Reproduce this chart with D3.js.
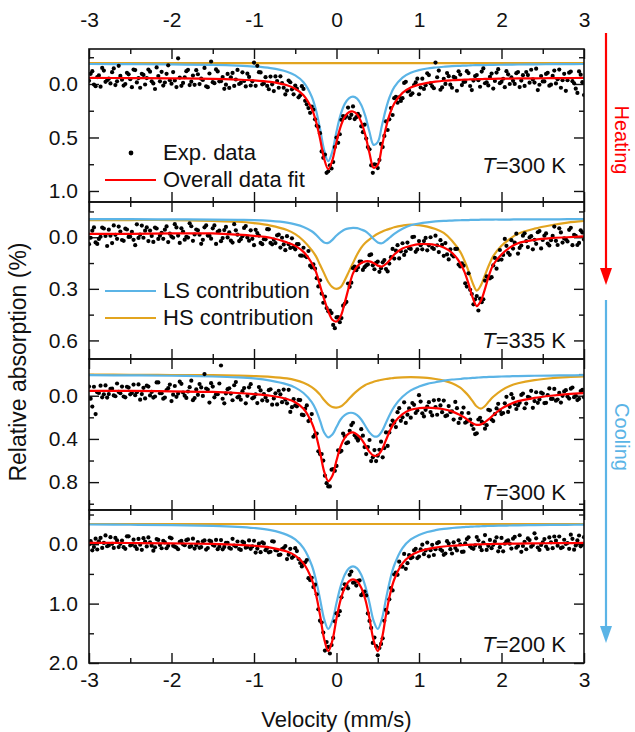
<!DOCTYPE html>
<html>
<head>
<meta charset="utf-8">
<script src="https://cdn.jsdelivr.net/npm/d3@7"></script>
<style>
  body { margin: 0; background: #fff; }
  svg { display: block; }
  text { font-family: Arial, "Liberation Sans", sans-serif; fill: #111; }
</style>
</head>
<body>
<div id="chart"></div>
<script>
// ---- data ----
var velTicks = [-3, -2, -1, 0, 1, 2, 3];
var velMinor = [-2.5, -1.5, -0.5, 0.5, 1.5, 2.5];

// velocities of the fitted-curve samples (mm/s)
var fitV = [-3, -2.5, -2, -1.5, -1.2, -1, -0.8, -0.6, -0.5, -0.4,
  -0.3, -0.25, -0.2, -0.15, -0.1, -0.05, 0, 0.05, 0.1, 0.15,
  0.2, 0.25, 0.3, 0.35, 0.4, 0.45, 0.5, 0.55, 0.6, 0.65,
  0.7, 0.8, 0.9, 1.0, 1.1, 1.2, 1.3, 1.4, 1.5, 1.55,
  1.6, 1.65, 1.7, 1.75, 1.8, 1.85, 1.9, 2.0, 2.1, 2.2,
  2.4, 2.6, 2.8, 3];
var flatV = [-3, 3];

// panel 1 : T = 300 K (heating); expA on channels -3.00+0.04i, expB on -2.98+0.04j
var exp1A = [-0.03,-0.12,0.02,-0.08,-0.15,-0.02,-0.05,-0.11,0.01,-0.17,
  -0.04,0.0,-0.09,0.03,-0.13,-0.055,-0.095,0.005,-0.135,-0.025,
  0.047,-0.074,-0.114,-0.014,-0.174,-0.003,-0.033,-0.24,0.017,-0.063,
  -0.132,-0.022,0.008,-0.091,-0.05,-0.15,0.03,-0.21,-0.008,-0.117,
  -0.026,0.045,-0.094,-0.063,0.018,-0.131,-0.01,-0.028,-0.096,0.014,
  -0.2,-0.17,-0.108,-0.005,0.018,-0.069,0.066,-0.028,-0.072,0.035,
  0.062,-0.016,0.097,0.044,0.106,0.046,0.19,0.27,0.24,0.39,
  0.46,0.69,0.83,0.76,0.73,0.50,0.47,0.30,0.30,0.32,
  0.21,0.31,0.30,0.45,0.51,0.61,0.83,0.755,0.71,0.59,
  0.35,0.33,0.29,0.12,0.125,0.133,-0.02,0.062,0.087,-0.015,
  0.096,-0.05,0.012,-0.083,0.022,-0.2,-0.125,0.032,-0.001,-0.073,
  0.035,-0.057,-0.118,0.01,-0.021,-0.102,0.057,-0.074,-0.035,-0.116,
  -0.007,0.013,-0.097,-0.028,-0.138,-0.02,0.03,-0.09,-0.061,-0.001,
  -0.112,-0.032,0.018,-0.083,-0.133,-0.013,0.057,-0.074,-0.024,-0.104,
  0.006,-0.125,-0.045,0.035,-0.095,-0.035,-0.116,-0.006,0.084,-0.087,0.103];
var exp1B = [-0.095,0.005,-0.065,0.025,-0.125,-0.035,-0.005,-0.145,-0.025,-0.075,
  0.015,-0.105,-0.045,-0.135,-0.015,0.035,-0.085,-0.055,-0.115,-0.005,
  -0.155,-0.025,0.015,-0.095,-0.035,-0.111,0.029,-0.06,-0.01,-0.12,
  0.01,-0.079,-0.129,0.001,-0.038,0.022,-0.098,-0.017,-0.136,-0.025,
  -0.065,0.006,0.037,-0.103,-0.042,0.0,-0.109,0.023,-0.066,-0.025,
  0.017,-0.11,0.003,-0.064,0.049,0.003,-0.071,0.035,-0.008,0.098,
  -0.032,0.05,0.015,0.125,0.02,0.157,0.225,0.212,0.33,0.40,
  0.63,0.66,0.816,0.79,0.59,0.55,0.335,0.318,0.22,0.288,
  0.328,0.28,0.396,0.38,0.59,0.76,0.75,0.786,0.56,0.485,
  0.43,0.225,0.133,0.175,0.158,-0.01,0.07,0.103,0.01,-0.05,
  0.033,0.046,-0.1,-0.005,0.04,-0.063,0.054,-0.049,-0.102,0.006,
  -0.066,0.063,-0.088,-0.019,-0.12,0.019,-0.032,-0.083,0.026,-0.145,
  -0.016,-0.066,0.043,-0.107,-0.008,-0.049,-0.12,0.0,-0.03,-0.101,
  0.029,-0.082,-0.112,-0.012,-0.043,-0.143,0.007,-0.024,-0.094,0.016,
  -0.075,-0.005,-0.135,-0.035,0.064,-0.106,-0.026,0.044,-0.117,-0.017];
var fit1 = [-0.057,-0.055,-0.053,-0.048,-0.041,-0.034,-0.019,0.012,0.045,0.106,
  0.232,0.346,0.51,0.698,0.796,0.713,0.542,0.398,0.308,0.264,
  0.257,0.285,0.356,0.478,0.647,0.783,0.756,0.587,0.406,0.273,
  0.183,0.083,0.033,0.006,-0.011,-0.022,-0.03,-0.035,-0.039,-0.041,
  -0.042,-0.043,-0.045,-0.046,-0.047,-0.047,-0.048,-0.05,-0.051,-0.052,
  -0.053,-0.054,-0.055,-0.057];
var ls1 = [-0.187,-0.185,-0.183,-0.178,-0.171,-0.163,-0.148,-0.115,-0.08,-0.016,
  0.119,0.241,0.416,0.617,0.721,0.63,0.445,0.287,0.186,0.134,
  0.118,0.137,0.196,0.301,0.449,0.569,0.543,0.39,0.23,0.11,
  0.03,-0.06,-0.104,-0.129,-0.145,-0.154,-0.161,-0.167,-0.17,-0.172,
  -0.173,-0.175,-0.176,-0.177,-0.177,-0.178,-0.179,-0.18,-0.181,-0.182,
  -0.184,-0.185,-0.186,-0.187];
var hs1 = [-0.195, -0.195];

// panel 2 : T = 335 K
var exp2A = [0.04,-0.038,0.03,0.01,-0.056,-0.008,-0.044,0.034,-0.014,-0.062,
  0.016,-0.05,-0.002,-0.032,0.046,0.004,-0.068,-0.038,0.022,-0.008,
  -0.056,0.01,-0.026,-0.044,0.028,-0.004,-0.076,-0.01,-0.052,0.014,
  0.002,-0.064,-0.016,-0.04,0.038,-0.058,-0.01,0.008,-0.069,-0.032,
  0.023,-0.042,0.001,0.02,-0.076,-0.015,0.011,-0.054,0.001,-0.04,
  0.046,-0.024,0.033,0.011,-0.047,0.033,0.014,-0.011,0.06,0.042,
  -0.006,0.062,0.058,0.04,0.106,0.061,0.116,0.165,0.158,0.238,
  0.25,0.381,0.412,0.427,0.51,0.466,0.494,0.398,0.376,0.288,
  0.18,0.192,0.142,0.19,0.164,0.104,0.163,0.149,0.201,0.146,
  0.185,0.153,0.068,0.078,0.123,0.035,0.082,0.064,-0.001,0.085,
  0.022,0.07,0.004,0.047,0.061,-0.009,0.086,0.044,0.034,0.129,
  0.102,0.068,0.159,0.152,0.268,0.21,0.33,0.361,0.426,0.378,
  0.252,0.234,0.232,0.12,0.132,0.13,0.01,0.09,0.017,0.031,
  0.095,0.048,-0.023,0.057,-0.006,0.015,-0.029,0.065,-0.009,0.037,
  0.017,-0.062,0.045,-0.028,0.007,0.024,-0.055,-0.014,0.045,-0.04,0.013];
var exp2B = [0.003,-0.057,0.039,-0.003,-0.051,0.051,-0.009,-0.069,0.009,-0.033,
  0.021,-0.045,-0.003,0.015,-0.075,-0.015,0.003,-0.057,-0.039,0.027,
  -0.051,-0.009,0.009,-0.063,-0.021,0.003,-0.057,0.033,-0.033,-0.003,
  -0.081,0.021,-0.045,-0.015,0.015,-0.069,-0.009,-0.052,0.039,-0.038,
  0.005,-0.06,-0.029,0.031,-0.04,0.022,-0.006,-0.065,0.02,0.009,
  -0.043,-0.01,0.04,0.012,-0.046,0.041,0.034,-0.015,0.003,0.075,
  0.04,0.006,0.07,0.04,0.107,0.109,0.08,0.176,0.183,0.286,
  0.328,0.345,0.431,0.441,0.529,0.464,0.47,0.387,0.269,0.264,
  0.171,0.176,0.142,0.174,0.158,0.1,0.186,0.142,0.18,0.133,
  0.199,0.116,0.124,0.046,0.082,0.103,0.031,0.068,-0.003,0.071,
  0.046,0.022,0.076,0.0,0.068,0.047,0.017,0.108,0.1,0.07,
  0.112,0.068,0.17,0.165,0.287,0.306,0.39,0.342,0.357,0.361,
  0.228,0.239,0.164,0.183,0.074,0.103,0.05,0.102,0.066,-0.021,
  0.062,-0.009,0.023,0.001,0.07,0.038,-0.036,0.016,-0.022,0.048,
  -0.008,0.021,-0.052,0.031,0.012,-0.043,0.046,-0.008,0.033,-0.028];
var fit2 = [-0.02,-0.02,-0.022,-0.022,-0.015,-0.008,0.003,0.03,0.05,0.085,
  0.15,0.2,0.28,0.36,0.43,0.48,0.49,0.46,0.38,0.29,
  0.21,0.17,0.15,0.14,0.14,0.15,0.165,0.17,0.155,0.13,
  0.1,0.065,0.05,0.04,0.04,0.045,0.06,0.09,0.15,0.2,
  0.27,0.35,0.4,0.37,0.3,0.22,0.16,0.1,0.06,0.035,
  0.015,0.005,0,-0.005];
var ls2 = [-0.105,-0.105,-0.104,-0.103,-0.101,-0.1,-0.095,-0.085,-0.075,-0.06,
  -0.035,-0.015,0.01,0.03,0.033,0.015,-0.01,-0.03,-0.045,-0.052,
  -0.055,-0.053,-0.045,-0.035,-0.015,0.01,0.03,0.035,0.02,0.0,
  -0.02,-0.05,-0.07,-0.08,-0.087,-0.092,-0.095,-0.097,-0.099,-0.1,
  -0.1,-0.101,-0.101,-0.102,-0.102,-0.102,-0.103,-0.103,-0.103,-0.104,
  -0.104,-0.104,-0.105,-0.105];
var hs2 = [-0.1,-0.1,-0.1,-0.095,-0.09,-0.082,-0.068,-0.042,-0.018,0.02,
  0.075,0.11,0.16,0.21,0.26,0.29,0.3,0.29,0.25,0.2,
  0.15,0.1,0.06,0.032,0.012,-0.005,-0.02,-0.032,-0.042,-0.05,
  -0.058,-0.068,-0.074,-0.07,-0.062,-0.048,-0.025,0.02,0.085,0.135,
  0.195,0.265,0.31,0.28,0.22,0.16,0.11,0.05,0.01,-0.02,
  -0.05,-0.07,-0.085,-0.095];

// panel 3 : T = 300 K (cooling)
var exp3A = [-0.085,0.1,0.17,-0.025,0.015,-0.095,-0.015,-0.065,0.005,-0.035,
  -0.085,0.015,-0.075,-0.025,-0.005,-0.105,-0.015,0.025,-0.085,-0.035,
  0.007,-0.123,-0.023,0.017,-0.07,0.05,-0.09,-0.02,-0.11,0.0,
  -0.039,-0.139,0.022,-0.008,-0.077,-0.2,-0.057,-0.116,0.015,-0.014,
  -0.28,0.07,-0.061,-0.02,-0.097,0.015,0.037,-0.071,0.001,-0.107,
  0.015,0.068,-0.049,-0.016,0.047,-0.06,0.025,0.081,-0.013,-0.057,
  0.07,0.15,0.032,0.098,0.04,0.18,0.09,0.22,0.38,0.35,
  0.54,0.60,0.81,0.84,0.68,0.65,0.52,0.35,0.44,0.325,
  0.25,0.39,0.39,0.37,0.54,0.41,0.57,0.605,0.50,0.57,
  0.34,0.34,0.23,0.29,0.115,0.20,0.252,0.118,0.068,0.16,
  -0.005,0.163,0.131,0.06,0.182,0.105,0.038,0.152,0.188,0.096,
  0.145,0.057,0.252,0.16,0.25,0.16,0.27,0.355,0.22,0.24,
  0.305,0.13,0.22,0.17,0.075,0.17,0.07,0.15,-0.014,0.077,
  0.09,-0.007,0.116,0.01,-0.045,0.05,0.066,-0.028,0.068,-0.006,
  0.03,-0.063,0.035,0.063,-0.04,0.008,-0.065,0.013,0.04,-0.043,0.015];
var exp3B = [0.027,-0.083,-0.033,-0.093,-0.013,0.017,-0.063,-0.003,-0.113,-0.023,
  0.007,-0.083,-0.013,-0.103,-0.033,0.037,-0.073,-0.093,-0.003,0.017,
  -0.123,-0.023,0.027,-0.053,-0.103,-0.01,0.01,-0.13,-0.03,0.02,
  -0.079,0.041,-0.058,-0.108,0.002,-0.067,0.063,-0.085,-0.014,-0.113,
  0.028,-0.021,-0.069,0.042,-0.126,0.006,-0.042,0.07,-0.078,0.024,
  -0.013,-0.08,0.043,0.016,-0.051,0.083,-0.022,-0.046,0.06,0.037,
  -0.055,0.106,0.09,0.039,0.175,0.12,0.235,0.17,0.36,0.515,
  0.54,0.74,0.84,0.685,0.695,0.505,0.51,0.375,0.432,0.272,
  0.365,0.415,0.31,0.475,0.475,0.605,0.503,0.555,0.425,0.485,
  0.465,0.275,0.25,0.152,0.232,0.061,0.175,0.203,0.084,0.137,
  0.054,0.192,0.1,0.151,0.043,0.176,0.09,0.045,0.182,0.15,
  0.221,0.115,0.211,0.11,0.24,0.22,0.308,0.348,0.205,0.253,
  0.273,0.135,0.235,0.118,0.138,0.16,0.01,0.103,0.022,0.123,
  0.066,-0.02,0.073,0.018,0.112,-0.032,0.034,-0.02,0.066,-0.068,
  0.029,0.046,-0.026,0.001,-0.051,0.026,-0.076,0.001,0.029,-0.054];
var fit3 = [-0.045,-0.045,-0.04,-0.035,-0.025,-0.015,0.0,0.03,0.06,0.12,
  0.25,0.36,0.52,0.70,0.79,0.74,0.60,0.47,0.39,0.35,
  0.34,0.36,0.40,0.46,0.52,0.555,0.55,0.50,0.41,0.32,
  0.25,0.17,0.13,0.115,0.11,0.115,0.125,0.145,0.18,0.20,
  0.23,0.255,0.27,0.265,0.245,0.215,0.18,0.12,0.08,0.05,
  0.02,0.0,-0.015,-0.025];
var ls3 = [-0.19,-0.188,-0.185,-0.178,-0.17,-0.16,-0.14,-0.105,-0.075,-0.025,
  0.06,0.13,0.23,0.34,0.385,0.36,0.29,0.22,0.18,0.16,
  0.16,0.18,0.22,0.28,0.34,0.375,0.375,0.33,0.25,0.17,
  0.10,0.01,-0.05,-0.085,-0.11,-0.125,-0.14,-0.15,-0.155,-0.16,
  -0.162,-0.165,-0.167,-0.17,-0.172,-0.174,-0.175,-0.178,-0.18,-0.182,
  -0.185,-0.187,-0.188,-0.19];
var hs3 = [-0.195,-0.194,-0.192,-0.19,-0.186,-0.182,-0.175,-0.16,-0.145,-0.12,
  -0.08,-0.05,-0.01,0.04,0.08,0.105,0.11,0.10,0.07,0.03,
  -0.01,-0.045,-0.075,-0.1,-0.115,-0.13,-0.14,-0.148,-0.155,-0.16,
  -0.165,-0.17,-0.172,-0.17,-0.165,-0.155,-0.14,-0.115,-0.075,-0.04,
  0.0,0.05,0.10,0.12,0.095,0.05,0.01,-0.05,-0.09,-0.115,
  -0.145,-0.162,-0.172,-0.178];

// panel 4 : T = 200 K
var exp4A = [0.005,0.103,-0.093,-0.05,0.062,-0.148,0.021,-0.007,-0.105,0.049,
  -0.062,0.078,-0.132,0.008,0.037,-0.089,0.094,-0.046,-0.115,0.025,
  0.053,-0.072,0.068,-0.03,0.027,-0.099,0.042,0.085,-0.055,0.016,
  -0.081,0.032,0.074,-0.037,0.048,-0.063,0.064,-0.047,0.025,0.083,
  -0.069,0.045,-0.023,0.076,0.022,-0.046,0.097,-0.026,0.047,0.078,
  -0.058,0.073,0.134,-0.014,0.063,0.127,-0.045,0.106,0.175,0.064,
  0.25,0.077,0.204,0.115,0.316,0.323,0.266,0.604,0.722,0.844,
  1.288,1.487,1.648,1.84,1.578,1.166,1.128,0.758,0.693,0.515,
  0.649,0.697,0.609,0.828,0.862,1.292,1.662,1.714,1.746,1.585,
  1.106,0.928,0.778,0.478,0.294,0.379,0.414,0.185,0.218,0.077,
  0.208,0.008,0.105,0.204,0.011,0.085,-0.035,0.112,0.156,-0.011,
  0.156,0.064,-0.065,0.128,-0.015,-0.116,0.064,0.02,-0.066,0.1,
  -0.154,0.027,0.067,-0.047,0.12,-0.105,-0.008,-0.065,0.074,-0.123,
  0.031,0.128,-0.041,-0.097,0.042,-0.183,0.055,0.012,-0.086,0.081,
  -0.031,-0.13,0.024,0.065,-0.075,-0.02,-0.16,0.092,-0.063,0.035,-0.119];
var exp4B = [-0.051,0.047,0.089,-0.106,-0.022,0.034,-0.119,0.063,-0.063,-0.007,
  0.05,-0.132,0.022,-0.076,0.079,0.009,-0.102,0.038,-0.031,0.109,
  -0.087,0.012,-0.058,0.068,-0.113,0.028,0.056,-0.041,0.002,-0.068,
  0.045,-0.094,0.018,0.061,-0.05,0.091,-0.062,0.01,-0.072,0.042,
  0.086,-0.024,0.061,-0.091,0.037,0.081,-0.042,0.059,-0.064,0.038,
  0.14,-0.009,-0.031,0.101,0.137,-0.05,0.1,0.182,0.084,0.031,
  0.177,0.23,0.067,0.249,0.374,0.304,0.572,0.566,0.682,1.096,
  1.318,1.79,1.73,1.698,1.298,1.194,0.894,0.676,0.743,0.46,
  0.642,0.617,0.858,0.796,1.166,1.41,1.572,1.87,1.678,1.29,
  1.152,0.738,0.51,0.516,0.374,0.164,0.319,0.235,0.104,0.233,
  0.087,0.168,-0.028,0.1,0.182,-0.017,0.087,0.179,-0.051,0.084,
  -0.032,0.104,0.003,0.126,-0.087,0.037,0.077,-0.121,0.045,-0.027,
  0.097,-0.072,0.011,-0.116,0.05,0.119,-0.05,-0.009,-0.094,0.059,
  -0.151,0.03,0.085,-0.069,0.014,-0.099,0.097,-0.03,0.04,-0.115,
  0.067,-0.06,-0.13,0.051,-0.005,0.078,-0.09,0.022,-0.147,0.007];
var fit4 = [-0.023,-0.02,-0.015,-0.004,0.01,0.026,0.057,0.124,0.193,0.323,
  0.594,0.839,1.19,1.59,1.80,1.62,1.25,0.934,0.732,0.626,
  0.593,0.626,0.732,0.934,1.25,1.62,1.80,1.59,1.19,0.839,
  0.594,0.323,0.193,0.124,0.083,0.057,0.039,0.026,0.017,0.013,
  0.01,0.007,0.004,0.002,-0.001,-0.002,-0.004,-0.007,-0.009,-0.011,
  -0.015,-0.017,-0.019,-0.021];
var ls4 = [-0.332,-0.328,-0.322,-0.309,-0.293,-0.273,-0.236,-0.157,-0.08,0.066,
  0.354,0.598,0.92,1.26,1.426,1.29,0.99,0.71,0.513,0.408,
  0.374,0.408,0.513,0.71,0.99,1.29,1.426,1.26,0.92,0.598,
  0.354,0.066,-0.08,-0.157,-0.206,-0.236,-0.258,-0.273,-0.285,-0.289,
  -0.293,-0.296,-0.3,-0.302,-0.305,-0.307,-0.309,-0.313,-0.315,-0.317,
  -0.322,-0.325,-0.327,-0.329];
var hs4 = [-0.34, -0.34];

var yMajor1 = [0, 0.5, 1.0], yMajor2 = [0, 0.3, 0.6], yMajor3 = [0, 0.4, 0.8], yMajor4 = [0, 1.0, 2.0];
var tempLabels = ["300 K", "335 K", "300 K", "200 K"];

// ---- layout ----
var W = 635, H = 732;
var RED = "#ff0000", BLUE = "#5bb4e6", ORANGE = "#e2a41f";

var svg = d3.select("#chart").append("svg")
    .attr("width", W)
    .attr("height", H);

var x = d3.scaleLinear().domain([-3, 3]).range([89, 584]);
var velFormat = function(d) { return String(d); };   // plain hyphen minus, as in the figure

// two interleaved sets of channels, 0.04 mm/s apart each
var chanA = d3.range(exp1A.length).map(function(i) { return -3 + i * 0.04; });
var chanB = d3.range(exp1B.length).map(function(i) { return -2.98 + i * 0.04; });

var panels = [
  {top: 49,  bottom: 202, domain: [-0.327, 1.103], major: yMajor1, minor: 0.25, expA: exp1A, expB: exp1B, fit: fit1, ls: ls1, hs: hs1, hsV: flatV, ty: 173},
  {top: 202, bottom: 359, domain: [-0.205, 0.708], major: yMajor2, minor: 0.15, expA: exp2A, expB: exp2B, fit: fit2, ls: ls2, hs: hs2, hsV: fitV,  ty: 348},
  {top: 359, bottom: 510, domain: [-0.34, 1.058],  major: yMajor3, minor: 0.2,  expA: exp3A, expB: exp3B, fit: fit3, ls: ls3, hs: hs3, hsV: fitV,  ty: 500},
  {top: 510, bottom: 663, domain: [-0.576, 2.0],   major: yMajor4, minor: 0.5,  expA: exp4A, expB: exp4B, fit: fit4, ls: ls4, hs: hs4, hsV: flatV, ty: 652}
];

function styleAxis(sel) {
  sel.select(".domain").remove();
  sel.selectAll(".tick line").attr("stroke", "#111").attr("stroke-width", 1.4);
  sel.selectAll(".tick text").style("font-size", "21px").attr("fill", "#111");
}

panels.forEach(function(p, k) {
  var y = d3.scaleLinear().domain(p.domain).range([p.top, p.bottom]);
  var g = svg.append("g");

  svg.append("clipPath").attr("id", "clip" + k)
    .append("rect")
      .attr("x", x(-3)).attr("y", p.top)
      .attr("width", x(3) - x(-3)).attr("height", p.bottom - p.top);

  var minorY = d3.range(Math.ceil(p.domain[0] / p.minor), Math.floor(p.domain[1] / p.minor) + 1)
    .map(function(i) { return +(i * p.minor).toFixed(3); })
    .filter(function(v) { return p.major.indexOf(v) < 0; });

  // axis-y left (labels) and right
  g.append("g").attr("transform", "translate(" + x(-3) + ",0)")
    .call(d3.axisLeft(y).tickValues(p.major).tickSize(-10).tickPadding(11).tickFormat(d3.format(".1f")))
    .call(styleAxis);
  g.append("g").attr("transform", "translate(" + x(-3) + ",0)")
    .call(d3.axisLeft(y).tickValues(minorY).tickSize(-5).tickFormat(""))
    .call(styleAxis);
  g.append("g").attr("transform", "translate(" + x(3) + ",0)")
    .call(d3.axisRight(y).tickValues(p.major).tickSize(-10).tickFormat(""))
    .call(styleAxis);
  g.append("g").attr("transform", "translate(" + x(3) + ",0)")
    .call(d3.axisRight(y).tickValues(minorY).tickSize(-5).tickFormat(""))
    .call(styleAxis);

  // axis-x top and bottom of every panel
  g.append("g").attr("transform", "translate(0," + p.top + ")")
    .call(d3.axisTop(x).tickValues(velTicks).tickSize(-10).tickPadding(22)
      .tickFormat(k === 0 ? velFormat : ""))
    .call(styleAxis);
  g.append("g").attr("transform", "translate(0," + p.top + ")")
    .call(d3.axisTop(x).tickValues(velMinor).tickSize(-5).tickFormat(""))
    .call(styleAxis);
  g.append("g").attr("transform", "translate(0," + p.bottom + ")")
    .call(d3.axisBottom(x).tickValues(velTicks).tickSize(-10).tickPadding(9)
      .tickFormat(k === 3 ? velFormat : ""))
    .call(styleAxis);
  g.append("g").attr("transform", "translate(0," + p.bottom + ")")
    .call(d3.axisBottom(x).tickValues(velMinor).tickSize(-5).tickFormat(""))
    .call(styleAxis);

  var plot = g.append("g").attr("clip-path", "url(#clip" + k + ")");

  var line = function(vs) {
    return d3.line()
      .x(function(d, i) { return x(vs[i]); })
      .y(function(d) { return y(d); })
      .curve(d3.curveCatmullRom.alpha(0.5));
  };

  plot.append("path").attr("d", line(p.hsV)(p.hs))
    .attr("fill", "none").attr("stroke", ORANGE).attr("stroke-width", 2.2);
  plot.append("path").attr("d", line(fitV)(p.ls))
    .attr("fill", "none").attr("stroke", BLUE).attr("stroke-width", 2.2);

  // experimental points
  [[p.expA, chanA], [p.expB, chanB]].forEach(function(set) {
    plot.append("g").selectAll("circle")
      .data(set[0])
      .enter().append("circle")
        .attr("cx", function(d, i) { return x(set[1][i]); })
        .attr("cy", function(d) { return y(d); })
        .attr("r", 2.1)
        .attr("fill", "#000");
  });

  plot.append("path").attr("d", line(fitV)(p.fit))
    .attr("fill", "none").attr("stroke", RED).attr("stroke-width", 2.2);

  // frame
  g.append("rect")
    .attr("x", x(-3)).attr("y", p.top)
    .attr("width", x(3) - x(-3)).attr("height", p.bottom - p.top)
    .attr("fill", "none").attr("stroke", "#111").attr("stroke-width", 1.6);

  // temperature label
  var t = g.append("text")
    .attr("x", 566).attr("y", p.ty)
    .attr("text-anchor", "end")
    .style("font-size", "22px");
  t.append("tspan").style("font-style", "italic").text("T");
  t.append("tspan").text("=" + tempLabels[k]);
});

// legends
var leg = svg.append("g").style("font-size", "22px");
leg.append("circle").attr("cx", 131).attr("cy", 153).attr("r", 2.4).attr("fill", "#000");
leg.append("text").attr("x", 163).attr("y", 160).text("Exp. data");
leg.append("line").attr("x1", 105).attr("x2", 156).attr("y1", 180).attr("y2", 180)
  .attr("stroke", RED).attr("stroke-width", 2.2);
leg.append("text").attr("x", 163).attr("y", 187).text("Overall data fit");
leg.append("line").attr("x1", 105).attr("x2", 156).attr("y1", 291).attr("y2", 291)
  .attr("stroke", BLUE).attr("stroke-width", 2.2);
leg.append("text").attr("x", 163).attr("y", 298).text("LS contribution");
leg.append("line").attr("x1", 105).attr("x2", 156).attr("y1", 318).attr("y2", 318)
  .attr("stroke", ORANGE).attr("stroke-width", 2.2);
leg.append("text").attr("x", 163).attr("y", 325).text("HS contribution");

// axis titles
svg.append("text")
  .attr("transform", "translate(26,362) rotate(-90)")
  .attr("text-anchor", "middle")
  .style("font-size", "23px")
  .text("Relative absorption (%)");
svg.append("text")
  .attr("x", x(0)).attr("y", 727)
  .attr("text-anchor", "middle")
  .style("font-size", "22px")
  .text("Velocity (mm/s)");

// heating / cooling arrows
function arrow(y1, y2, color, label, ly) {
  svg.append("line").attr("x1", 606).attr("x2", 606).attr("y1", y1).attr("y2", y2 - 14)
    .attr("stroke", color).attr("stroke-width", 2.2);
  svg.append("path")
    .attr("d", "M600," + (y2 - 17) + "L612," + (y2 - 17) + "L606," + y2 + "Z")
    .attr("fill", color);
  svg.append("text")
    .attr("transform", "translate(622," + ly + ") rotate(90)")
    .attr("text-anchor", "middle")
    .attr("dy", "0.35em")
    .style("font-size", "20px")
    .style("fill", color)
    .text(label);
}
arrow(33, 285, RED, "Heating", 140);
arrow(300, 643, BLUE, "Cooling", 437);
</script>
</body>
</html>
